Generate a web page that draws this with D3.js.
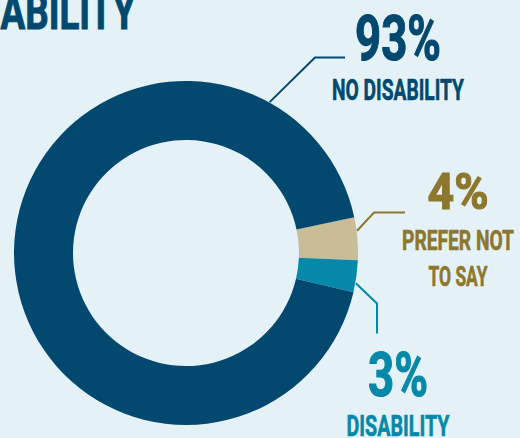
<!DOCTYPE html>
<html>
<head>
<meta charset="utf-8">
<script src="https://cdn.jsdelivr.net/npm/d3@7"></script>
<style>
  html, body { margin: 0; padding: 0; background: #e4f2f7; overflow: hidden; }
  svg { display: block; }
  text { font-family: Roboto, "Liberation Sans", sans-serif; font-weight: 700; }
</style>
</head>
<body>
<svg id="chart" width="520" height="438"></svg>
<script>
// Survey response shares (percent)
const categories = ["Prefer not to say", "Disability", "No disability"];
const values = [4, 3, 93];
const percentLabels = ["4%", "3%", "93%"];
const nameLines = [["PREFER NOT", "TO SAY"], ["DISABILITY"], ["NO DISABILITY"]];
const titleText = "DISABILITY";

const colors = {
  "Prefer not to say": "#c8bd97",
  "Disability": "#0689a9",
  "No disability": "#03496f"
};
const textColors = {
  "Prefer not to say": "#8d772f",
  "Disability": "#0689a9",
  "No disability": "#03496f"
};

const svg = d3.select("#chart");
const cx = 186, cy = 253, outerR = 172, innerR = 113;
const deg = Math.PI / 180;

// Title, partly running off the left edge
const title = svg.append("text")
  .attr("fill", colors["No disability"])
  .attr("stroke", colors["No disability"])
  .attr("stroke-width", 1)
  .attr("font-size", 50)
  .attr("y", 29)
  .text(titleText);
{
  const node = title.node();
  const tail = node.getSubStringLength(3, 7);
  const sx = 135 / tail;
  const full = node.getComputedTextLength();
  title.attr("transform", `translate(${135.5 - full * sx},0) scale(${sx},1)`);
}

// Donut
const pie = d3.pie().sort(null).value(d => d.value)
  .startAngle(78 * deg).endAngle(78 * deg + 2 * Math.PI);
const data = categories.map((c, i) => ({ name: c, value: values[i] }));
const arcs = pie(data);
const arc = d3.arc().innerRadius(innerR).outerRadius(outerR);

const g = svg.append("g").attr("transform", `translate(${cx},${cy})`);
g.selectAll("path").data(arcs).join("path")
  .attr("d", arc)
  .attr("fill", d => colors[d.data.name]);

// Leader lines: start on the ring edge, bend to the labels
const polar = (a, r) => [cx + r * Math.sin(a), cy - r * Math.cos(a)];
const leaders = {
  "No disability": { angle: 29, pts: [[315, 57.5], [345, 57.5]] },
  "Prefer not to say": { angle: 82.6, pts: [[374, 212.5], [405, 212.5]] },
  "Disability": { angle: 100.1, pts: [[377, 303.5], [377, 333.5]] }
};
const line = d3.line();
arcs.forEach(d => {
  const L = leaders[d.data.name];
  const start = polar(L.angle * deg, outerR + 0.5);
  svg.append("path")
    .attr("d", line([start, ...L.pts]))
    .attr("fill", "none")
    .attr("stroke", textColors[d.data.name])
    .attr("stroke-width", 2);
});

// Labels: percentage and category name
const labelLayout = {
  "No disability": { x: 398, pct: { y: 60, size: 63, w: 86 }, lines: [{ y: 99.7, size: 29, w: 132 }] },
  "Prefer not to say": { x: 458, pct: { y: 209, size: 50, w: 61 }, lines: [{ y: 250.3, size: 27.2, w: 112 }, { y: 286.3, size: 27.2, w: 59 }] },
  "Disability": { x: 398, pct: { y: 396.2, size: 62, w: 60 }, lines: [{ y: 435.7, size: 29, w: 103 }] }
};
arcs.forEach((d, i) => {
  const L = labelLayout[d.data.name];
  const col = textColors[d.data.name];
  svg.append("text")
    .attr("x", L.x).attr("y", L.pct.y)
    .attr("text-anchor", "middle")
    .attr("font-size", L.pct.size)
    .attr("fill", col)
    .attr("stroke", col)
    .attr("stroke-width", 1.2)
    .attr("textLength", L.pct.w)
    .attr("lengthAdjust", "spacingAndGlyphs")
    .text(percentLabels[i]);
  nameLines[i].forEach((t, j) => {
    const s = L.lines[j];
    svg.append("text")
      .attr("x", L.x).attr("y", s.y)
      .attr("text-anchor", "middle")
      .attr("font-size", s.size)
      .attr("fill", col)
      .attr("stroke", col)
      .attr("stroke-width", 0.6)
      .attr("textLength", s.w)
      .attr("lengthAdjust", "spacingAndGlyphs")
      .text(t);
  });
});
</script>
</body>
</html>
